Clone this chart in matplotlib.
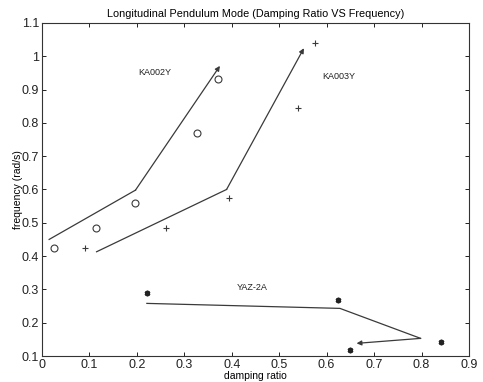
import matplotlib
matplotlib.use('Agg')
import matplotlib.pyplot as plt

plt.rcParams['font.family'] = ['Liberation Sans', 'DejaVu Sans']

# measured points
ka002y_x = [0.025, 0.113, 0.197, 0.326, 0.370]
ka002y_y = [0.424, 0.483, 0.559, 0.771, 0.931]
ka003y_x = [0.091, 0.261, 0.395, 0.540, 0.575]
ka003y_y = [0.423, 0.483, 0.573, 0.844, 1.039]
yaz_x = [0.221, 0.623, 0.649, 0.840]
yaz_y = [0.288, 0.268, 0.118, 0.141]

# trend arrows (polylines, arrowhead on the last point)
arr1_x = [0.015, 0.197, 0.375]
arr1_y = [0.450, 0.598, 0.971]
arr2_x = [0.115, 0.389, 0.552]
arr2_y = [0.413, 0.600, 1.024]
arr3_x = [0.221, 0.628, 0.798, 0.663]
arr3_y = [0.258, 0.243, 0.153, 0.138]

labels = ['KA002Y', 'KA003Y', 'YAZ-2A']
label_x = [0.203, 0.590, 0.411]
label_y = [0.950, 0.940, 0.307]

fig = plt.figure(figsize=(4.83, 3.82), dpi=100)
ax = fig.add_axes([0.087, 0.068, 0.884, 0.872])

col = '#3a3a3a'
ax.plot(ka002y_x, ka002y_y, 'o', mfc='none', mec=col, ms=5, mew=0.8)
ax.plot(ka003y_x, ka003y_y, '+', color=col, ms=5, mew=0.8)
ax.plot(yaz_x, yaz_y, marker=(6, 2, 0), ls='none', color='#222222', ms=4, mew=1.3)

for xs, ys in [(arr1_x, arr1_y), (arr2_x, arr2_y), (arr3_x, arr3_y)]:
    ax.plot(xs[:-1], ys[:-1], color=col, lw=0.9)
    ax.annotate('', xy=(xs[-1], ys[-1]), xytext=(xs[-2], ys[-2]),
                arrowprops=dict(arrowstyle='-|>', color=col, lw=0.9,
                                mutation_scale=7, shrinkA=0, shrinkB=0))

for t, lx, ly in zip(labels, label_x, label_y):
    ax.text(lx, ly, t, fontsize=6.5, color='#222222', va='center')

ax.set_xlim(0, 0.9)
ax.set_ylim(0.1, 1.1)
ax.set_xticks([0, 0.1, 0.2, 0.3, 0.4, 0.5, 0.6, 0.7, 0.8, 0.9])
ax.set_xticklabels(['0', '0.1', '0.2', '0.3', '0.4', '0.5', '0.6', '0.7', '0.8', '0.9'])
ax.set_yticks([0.1, 0.2, 0.3, 0.4, 0.5, 0.6, 0.7, 0.8, 0.9, 1.0, 1.1])
ax.set_yticklabels(['0.1', '0.2', '0.3', '0.4', '0.5', '0.6', '0.7', '0.8', '0.9', '1', '1.1'])
ax.tick_params(direction='in', top=True, right=True, length=3, width=0.7,
               labelsize=9, pad=2, colors='#222222')
for s in ax.spines.values():
    s.set_linewidth(0.8)
    s.set_color('#333333')

ax.set_title('Longitudinal Pendulum Mode (Damping Ratio VS Frequency)', fontsize=7.8, pad=4)
ax.set_xlabel('damping ratio', fontsize=7.5, labelpad=0)
ax.set_ylabel('frequency (rad/s)', fontsize=7.5, labelpad=-1)

fig.savefig('out.png', dpi=100)
